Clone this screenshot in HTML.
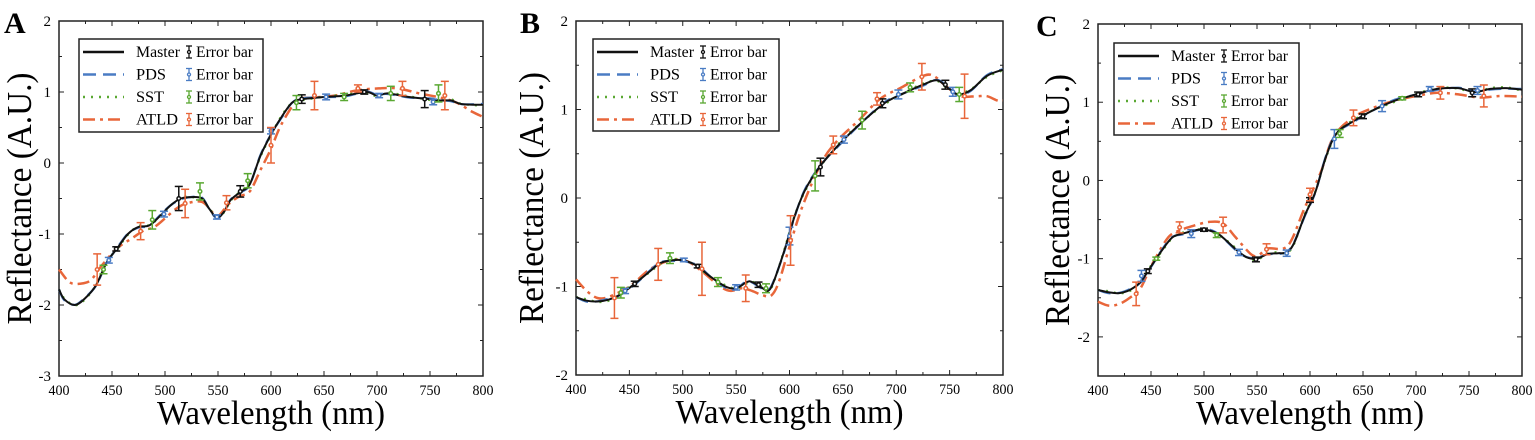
<!DOCTYPE html>
<html><head><meta charset="utf-8"><style>
html,body{margin:0;padding:0;background:#fff;}
svg,svg text{font-family:"Liberation Serif","DejaVu Serif","Times New Roman",serif;}
</style></head><body>
<svg id="s" width="1535" height="435" xmlns="http://www.w3.org/2000/svg"></svg>
<script>
const S=document.getElementById('s');let h='';
const C={m:'#111',p:'#4a7cc4',s:'#5aa832',a:'#e8663a'};
const panels=[
{L:'A',x0:59,x1:483,y0:21,y1:376,ymin:-3,ymax:2,step:1,lx:79,ly:39,lw:184,lh:93,letx:4,yt:20,
m:[[400,-1.78],[405,-1.92],[415,-2.0],[425,-1.9],[435,-1.72],[445,-1.4],[455,-1.2],[465,-1.0],[475,-0.9],[485,-0.88],[495,-0.75],[505,-0.6],[515,-0.5],[525,-0.48],[535,-0.5],[542,-0.65],[549,-0.77],[556,-0.68],[562,-0.52],[572,-0.4],[580,-0.3],[590,0.1],[600,0.4],[610,0.65],[620,0.85],[630,0.9],[650,0.93],[670,0.95],[690,1.0],[700,0.95],[710,0.98],[730,0.93],[750,0.9],[760,0.88],[770,0.88],[780,0.83],[800,0.82]],
a:[[400,-1.5],[410,-1.68],[420,-1.7],[430,-1.65],[440,-1.45],[455,-1.2],[470,-1.05],[480,-0.95],[490,-0.9],[500,-0.78],[510,-0.65],[520,-0.57],[535,-0.55],[545,-0.7],[550,-0.75],[560,-0.58],[570,-0.47],[580,-0.4],[590,-0.1],[600,0.2],[610,0.55],[625,0.88],[640,0.92],[660,0.95],[680,1.02],[700,1.05],[720,1.05],[740,0.98],[760,0.92],[775,0.85],[790,0.72],[800,0.65]],
e:[[454,-1.21,0.03,'m'],[513,-0.5,0.17,'m'],[571,-0.4,0.08,'m'],[629,0.9,0.06,'m'],[688,1.0,0.03,'m'],[745,0.9,0.12,'m'],
[447,-1.37,0.04,'p'],[499,-0.72,0.04,'p'],[549,-0.76,0.03,'p'],[600,0.45,0.04,'p'],[652,0.93,0.04,'p'],[702,0.95,0.03,'p'],[753,0.86,0.04,'p'],
[442,-1.5,0.06,'s'],[488,-0.8,0.13,'s'],[533,-0.4,0.12,'s'],[578,-0.25,0.1,'s'],[624,0.85,0.1,'s'],[669,0.93,0.05,'s'],[713,0.98,0.1,'s'],[758,0.98,0.12,'s'],
[436,-1.5,0.22,'a'],[477,-0.96,0.12,'a'],[519,-0.57,0.2,'a'],[558,-0.56,0.1,'a'],[600,0.25,0.25,'a'],[641,0.95,0.2,'a'],[682,1.05,0.05,'a'],[724,1.05,0.1,'a'],[764,0.95,0.2,'a']]},
{L:'B',x0:576,x1:1003,y0:21,y1:375,ymin:-2,ymax:2,step:1,lx:593,ly:39,lw:186,lh:92,letx:520,yt:532,
m:[[400,-1.12],[410,-1.16],[420,-1.17],[430,-1.15],[440,-1.1],[455,-0.97],[470,-0.82],[480,-0.73],[495,-0.7],[505,-0.72],[515,-0.78],[525,-0.88],[540,-1.0],[550,-1.02],[560,-0.95],[565,-0.95],[575,-1.02],[580,-1.05],[585,-0.95],[595,-0.6],[605,-0.2],[615,0.1],[630,0.38],[650,0.65],[670,0.88],[690,1.08],[710,1.2],[725,1.28],[738,1.33],[748,1.25],[758,1.17],[770,1.22],[785,1.38],[800,1.45]],
a:[[400,-0.92],[410,-1.05],[420,-1.13],[430,-1.12],[450,-1.0],[470,-0.8],[490,-0.7],[505,-0.72],[520,-0.85],[535,-1.0],[545,-1.05],[555,-1.02],[565,-1.05],[575,-1.1],[583,-1.1],[590,-0.95],[600,-0.55],[612,-0.1],[630,0.4],[645,0.65],[665,0.88],[685,1.12],[705,1.25],[725,1.38],[735,1.38],[748,1.25],[760,1.15],[775,1.15],[785,1.15],[795,1.1],[800,1.1]],
e:[[455,-0.97,0.03,'m'],[514,-0.77,0.02,'m'],[571,-0.98,0.03,'m'],[629,0.35,0.1,'m'],[687,1.07,0.05,'m'],[746,1.28,0.05,'m'],
[446,-1.05,0.03,'p'],[501,-0.7,0.02,'p'],[550,-1.01,0.03,'p'],[600,-0.43,0.1,'p'],[651,0.66,0.04,'p'],[702,1.17,0.05,'p'],[753,1.2,0.05,'p'],
[442,-1.07,0.06,'s'],[488,-0.68,0.06,'s'],[533,-0.95,0.05,'s'],[578,-1.02,0.05,'s'],[624,0.25,0.17,'s'],[668,0.88,0.1,'s'],[713,1.25,0.05,'s'],[759,1.17,0.08,'s'],
[436,-1.13,0.23,'a'],[477,-0.75,0.18,'a'],[518,-0.8,0.3,'a'],[559,-1.02,0.15,'a'],[601,-0.48,0.28,'a'],[641,0.6,0.1,'a'],[682,1.12,0.07,'a'],[724,1.37,0.15,'a'],[764,1.15,0.25,'a']]},
{L:'C',x0:1098,x1:1522,y0:24,y1:376,ymin:-2.5,ymax:2,step:1,lx:1114,ly:43,lw:185,lh:92,letx:1036,yt:1058,
m:[[400,-1.4],[410,-1.43],[420,-1.44],[430,-1.4],[440,-1.3],[450,-1.1],[460,-0.9],[470,-0.73],[480,-0.68],[495,-0.63],[505,-0.64],[515,-0.7],[530,-0.88],[540,-0.98],[550,-1.0],[560,-0.94],[570,-0.93],[578,-0.92],[585,-0.8],[595,-0.45],[605,-0.15],[615,0.3],[625,0.6],[640,0.75],[660,0.9],[680,1.02],[700,1.1],[720,1.17],[740,1.18],[755,1.13],[770,1.17],[785,1.18],[800,1.16]],
a:[[400,-1.55],[410,-1.6],[420,-1.58],[430,-1.5],[440,-1.38],[450,-1.1],[465,-0.75],[475,-0.65],[490,-0.58],[505,-0.53],[518,-0.55],[530,-0.73],[545,-0.95],[552,-0.95],[560,-0.87],[575,-0.87],[583,-0.75],[595,-0.35],[610,0.1],[622,0.55],[640,0.8],[660,0.93],[680,1.02],[700,1.08],[720,1.12],[740,1.1],[760,1.06],[780,1.08],[800,1.07]],
e:[[447,-1.16,0.03,'m'],[500,-0.63,0.02,'m'],[549,-1.01,0.03,'m'],[600,-0.25,0.03,'m'],[650,0.82,0.03,'m'],[702,1.1,0.03,'m'],[753,1.12,0.05,'m'],
[441,-1.22,0.07,'p'],[488,-0.68,0.05,'p'],[533,-0.92,0.04,'p'],[578,-0.93,0.04,'p'],[623,0.53,0.12,'p'],[668,0.95,0.07,'p'],[713,1.17,0.03,'p'],[758,1.15,0.05,'p'],
[455,-1.0,0.02,'s'],[512,-0.7,0.03,'s'],[628,0.6,0.05,'s'],[687,1.05,0.02,'s'],
[436,-1.45,0.15,'a'],[477,-0.6,0.07,'a'],[518,-0.57,0.1,'a'],[559,-0.88,0.07,'a'],[600,-0.18,0.08,'a'],[641,0.8,0.1,'a'],[723,1.12,0.08,'a'],[764,1.08,0.14,'a']]}
];
function cr(pts){let d='M'+pts[0][0].toFixed(1)+','+pts[0][1].toFixed(1);
for(let i=0;i<pts.length-1;i++){const p0=pts[Math.max(0,i-1)],p1=pts[i],p2=pts[i+1],p3=pts[Math.min(pts.length-1,i+2)];
const c1=[p1[0]+(p2[0]-p0[0])/6,p1[1]+(p2[1]-p0[1])/6],c2=[p2[0]-(p3[0]-p1[0])/6,p2[1]-(p3[1]-p1[1])/6];
d+=' C'+c1.map(v=>v.toFixed(1))+' '+c2.map(v=>v.toFixed(1))+' '+p2[0].toFixed(1)+','+p2[1].toFixed(1);}return d;}
const dash={m:'',p:'stroke-dasharray="13,7"',s:'stroke-dasharray="2,6"',a:'stroke-dasharray="12,5,3,5"'};
const FF='font-family="Liberation Serif, DejaVu Serif, serif" lengthAdjust="spacingAndGlyphs"';
for(const P of panels){
 const X=w=>P.x0+(w-400)/400*(P.x1-P.x0), Y=v=>P.y1-(v-P.ymin)/(P.ymax-P.ymin)*(P.y1-P.y0);
 const pt=(a,dy)=>a.map(([w,v],i)=>[X(w),Y(v+(dy?dy*Math.sin(i*1.7):0))]);
 h+=`<rect x="${P.x0}" y="${P.y0}" width="${P.x1-P.x0}" height="${P.y1-P.y0}" fill="none" stroke="#222" stroke-width="1.5"/>`;
 for(let w=400;w<=800;w+=25){const x=X(w),l=w%50?3:5;h+=`<line x1="${x}" y1="${P.y1}" x2="${x}" y2="${P.y1-l}" stroke="#222"/><line x1="${x}" y1="${P.y0}" x2="${x}" y2="${P.y0+l}" stroke="#222"/>`;
  if(w%50==0)h+=`<text ${FF} x="${x}" y="${P.y1+19}" font-size="15" text-anchor="middle" textLength="21">${w}</text>`;}
 for(let v=Math.ceil(P.ymin*2)/2;v<=P.ymax+1e-9;v+=0.5){const y=Y(v),l=Number.isInteger(v)?5:3;h+=`<line x1="${P.x0}" y1="${y}" x2="${P.x0+l}" y2="${y}" stroke="#222"/><line x1="${P.x1}" y1="${y}" x2="${P.x1-l}" y2="${y}" stroke="#222"/>`;
  if(Number.isInteger(v))h+=`<text ${FF} x="${P.x0-8}" y="${y+5}" font-size="15" text-anchor="end">${v}</text>`;}
 h+=`<text ${FF} x="${P.letx}" y="${P.y0+12}" font-size="30" font-weight="bold">${P.L}</text>`;
 h+=`<text ${FF} x="${(P.x0+P.x1)/2-114}" y="${P.y1+48}" font-size="34" textLength="228">Wavelength (nm)</text>`;
 h+=`<text ${FF} transform="translate(${P.yt+11},${(P.y0+P.y1)/2+126}) rotate(-90)" font-size="35" textLength="252">Reflectance (A.U.)</text>`;
 h+=`<path d="${cr(pt(P.a))}" fill="none" stroke="${C.a}" stroke-width="2.5" ${dash.a}/>`;
 h+=`<path d="${cr(pt(P.m,0.015))}" fill="none" stroke="${C.s}" stroke-width="2.2" ${dash.s}/>`;
 h+=`<path d="${cr(pt(P.m,-0.012))}" fill="none" stroke="${C.p}" stroke-width="2.2" ${dash.p}/>`;
 h+=`<path d="${cr(pt(P.m))}" fill="none" stroke="${C.m}" stroke-width="2"/>`;
 for(const [w,v,e,k] of P.e){const x=X(w),ya=Y(v+e),yb=Y(v-e),y=Y(v);
  h+=`<g stroke="${C[k]}" stroke-width="1.5"><line x1="${x}" y1="${ya}" x2="${x}" y2="${yb}"/><line x1="${x-4}" y1="${ya}" x2="${x+4}" y2="${ya}"/><line x1="${x-4}" y1="${yb}" x2="${x+4}" y2="${yb}"/><circle cx="${x}" cy="${y}" r="1.8" fill="#fff"/></g>`;}
 h+=`<rect x="${P.lx}" y="${P.ly}" width="${P.lw}" height="${P.lh}" fill="#fff" stroke="#222" stroke-width="1.5"/>`;
 const names=['Master','PDS','SST','ATLD'],nl=[44,30,28,42],ks=['m','p','s','a'];
 ks.forEach((k,i)=>{const y=P.ly+13+i*22.5;
  h+=`<line x1="${P.lx+4}" y1="${y}" x2="${P.lx+45}" y2="${y}" stroke="${C[k]}" stroke-width="2.5" ${dash[k]}/>`;
  h+=`<text ${FF} x="${P.lx+57}" y="${y+5}" font-size="16" textLength="${nl[i]}">${names[i]}</text>`;
  const ex=P.lx+110;h+=`<g stroke="${C[k]}" stroke-width="1.3"><line x1="${ex}" y1="${y-6}" x2="${ex}" y2="${y+6}"/><line x1="${ex-3}" y1="${y-6}" x2="${ex+3}" y2="${y-6}"/><line x1="${ex-3}" y1="${y+6}" x2="${ex+3}" y2="${y+6}"/><circle cx="${ex}" cy="${y}" r="1.5" fill="#fff"/></g>`;
  h+=`<text ${FF} x="${ex+7}" y="${y+5}" font-size="16" textLength="57">Error bar</text>`;});
}
S.innerHTML=h;
</script>
</body></html>
